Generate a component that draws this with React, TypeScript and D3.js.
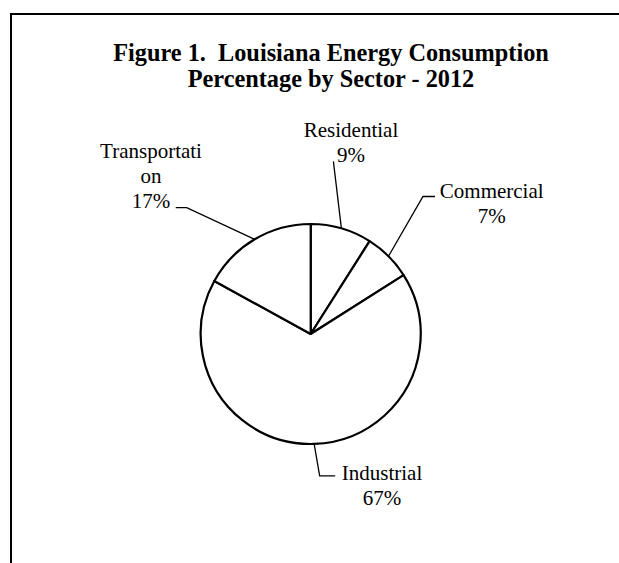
import React from "react";
import * as d3 from "d3";

// ---- data ----
const categories = ["Residential", "Commercial", "Industrial", "Transportation"];
const values = [9, 7, 67, 17];
// category text as it is wrapped in the chart
const categoryLines = [["Residential"], ["Commercial"], ["Industrial"], ["Transportati", "on"]];
const titleLines = ["Figure 1.  Louisiana Energy Consumption", "Percentage by Sector - 2012"];

// ---- layout (positions, not data) ----
const W = 619;
const H = 563;
const CX = 310.7;
const CY = 334;
const R = 110;
const FONT = "'Liberation Serif', 'Times New Roman', Times, serif";
const LINE_H = 25;
// label anchor (centre x, first baseline y) relative to pie centre,
// leader elbow / end offsets relative to the slice's arc midpoint
const labelLayout = [
  { lx: 40.3, ly: -197.5, leader: [[-8, -67]] },
  { lx: 181, ly: -136.5, leader: [[34.5, -59.7], [46.5, -59.7]] },
  { lx: 71.3, ly: 146, leader: [[5.5, 32], [21, 32]] },
  { lx: -159.7, ly: -176, leader: [[-68, -31.6], [-79, -31.6]] },
];

export default function App() {
  const pie = d3.pie<number>().sort(null).value((d) => d).startAngle(0).endAngle(2 * Math.PI);
  const arcs = pie(values);
  const arcGen = d3.arc<d3.PieArcDatum<number>>().innerRadius(0).outerRadius(R);
  const edgeArc = d3.arc<d3.PieArcDatum<number>>().innerRadius(R).outerRadius(R);
  const total = d3.sum(values);
  const pct = d3.format(".0%");

  return (
    <svg
      width={W}
      height={H}
      style={{ position: "absolute", left: 0, top: 0, background: "#fff" }}
      fontFamily={FONT}
    >
      <rect x={0} y={0} width={W} height={H} fill="#fff" />
      <path d={`M11,${H + 20} V14 H${W + 20}`} fill="none" stroke="#000" strokeWidth={2} />
      <g fontWeight="bold" fontSize={24.3} textAnchor="middle">
        {titleLines.map((t, i) => (
          <text key={i} x={331} y={61 + i * 26} xmlSpace="preserve" style={{ whiteSpace: "pre" }}>
            {t}
          </text>
        ))}
      </g>
      <g transform={`translate(${CX},${CY})`}>
        {arcs.map((a, i) => (
          <path key={categories[i]} d={arcGen(a) || ""} fill="#fff" stroke="#000" strokeWidth={2.2} strokeLinejoin="round" />
        ))}
        {arcs.map((a, i) => {
          const [px, py] = edgeArc.centroid(a);
          const L = labelLayout[i];
          const pts = [[px, py], ...L.leader.map(([dx, dy]) => [px + dx, py + dy])];
          const line = d3.line()(pts as [number, number][]) || "";
          return <path key={"l" + i} d={line} fill="none" stroke="#000" strokeWidth={1.3} />;
        })}
        {arcs.map((a, i) => {
          const L = labelLayout[i];
          const lines = [...categoryLines[i], pct(values[i] / total)];
          return (
            <text key={"t" + i} textAnchor="middle" fontSize={21}>
              {lines.map((s, j) => (
                <tspan key={j} x={L.lx} y={L.ly + j * LINE_H}>
                  {s}
                </tspan>
              ))}
            </text>
          );
        })}
      </g>
    </svg>
  );
}
